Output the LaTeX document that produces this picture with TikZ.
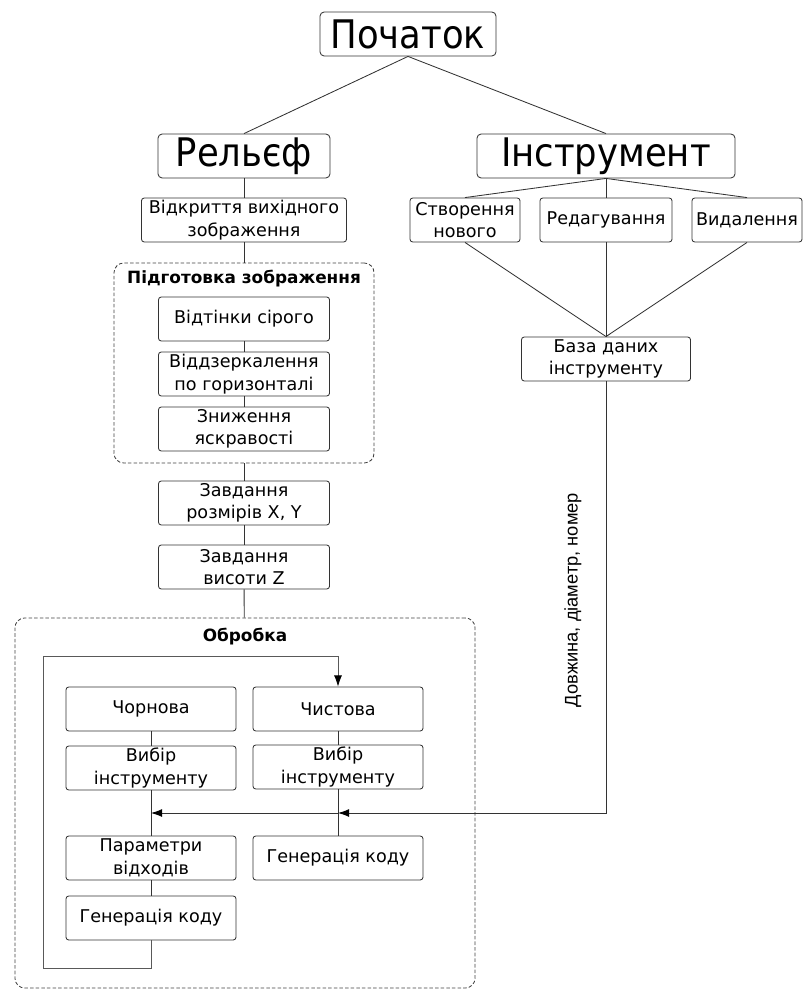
\documentclass[tikz,border=0pt]{standalone}
\usepackage{fontspec}
\setmainfont{DejaVu Sans}
\newfontfamily\condfont{DejaVu Sans Condensed}
\newfontfamily\arialfont{Liberation Sans}
\usetikzlibrary{arrows.meta, positioning}

\begin{document}
\begin{tikzpicture}[
  x=0.025cm, y=-0.025cm,
  line width=0.6pt,
  box/.style={draw=black!80, rounded corners=2pt, align=center, inner sep=0pt,
              minimum height=1.1cm, font=\fontsize{12.5}{16}\selectfont},
  bigbox/.style={draw=black!80, rounded corners=3pt, inner sep=0pt,
                 minimum height=1.1cm, font=\condfont\fontsize{28}{30}\selectfont},
  group/.style={draw=black!75, dash pattern=on 2.5pt off 1.5pt, rounded corners=7pt},
  grouptitle/.style={font=\bfseries\fontsize{12}{14}\selectfont},
  datalabel/.style={font=\arialfont\fontsize{13}{15}\selectfont},
  link/.style={draw=black!80},
  arr/.style={-{Latex[length=2.8mm, width=2mm, color=black]}, draw=black!80}
]
\useasboundingbox (0,0) rectangle (810,990);

% top level
\node[bigbox, minimum width=4.4cm] (start) at (408,34) {Початок};
\node[bigbox, minimum width=4.3cm] (relief) at (244,156) {Рельєф};
\node[bigbox, minimum width=6.45cm] (tool) at (606,156) {Інструмент};

% relief branch
\node[box, minimum width=5.125cm] (open) at (244,220) {Відкриття вихідного\\зображення};
\node[group, minimum width=6.5cm, minimum height=5cm] (prep) at (244,363) {};
\node[grouptitle] (preptitle) at (244,279) {Підготовка зображення};
\node[box, minimum width=4.275cm] (gray) at (244,319) {Відтінки сірого};
\node[box, minimum width=4.275cm] (mirror) at (244,374) {Віддзеркалення\\по горизонталі};
\node[box, minimum width=4.275cm] (bright) at (244,429) {Зниження\\яскравості};
\node[box, minimum width=4.275cm] (sizexy) at (244,503) {Завдання\\розмірів X, Y};
\node[box, minimum width=4.275cm] (heightz) at (244,567) {Завдання\\висоти Z};

% processing
\node[group, minimum width=11.5cm, minimum height=9.25cm] (proc) at (245,803) {};
\node[grouptitle] (proctitle) at (245,637) {Обробка};
\node[box, minimum width=4.25cm] (rough) at (151,709) {Чорнова};
\node[box, minimum width=4.25cm] (roughtool) at (151,768) {Вибір\\інструменту};
\node[box, minimum width=4.25cm] (waste) at (151,858) {Параметри\\відходів};
\node[box, minimum width=4.25cm] (roughgen) at (151,918) {Генерація коду};
\node[box, minimum width=4.25cm] (finish) at (338,709) {Чистова};
\node[box, minimum width=4.25cm] (finishtool) at (338,767) {Вибір\\інструменту};
\node[box, minimum width=4.25cm] (finishgen) at (338,858) {Генерація коду};

% tool branch
\node[box, minimum width=2.75cm] (new) at (465,220) {Створення\\нового};
\node[box, minimum width=3.3cm] (edit) at (606,220) {Редагування};
\node[box, minimum width=2.75cm] (del) at (747,220) {Видалення};
\node[box, minimum width=4.225cm] (db) at (606,359) {База даних\\інструменту};
\node[datalabel, rotate=90] (datatext) at (573,600) {Довжина, діаметр, номер};

\coordinate (loopbl) at (43,968);
\coordinate (looptr) at (338,656);
\coordinate (pinf) at (338,813);
\coordinate (pinr) at (151,813);

\draw[link] (start.south) -- (relief.north);
\draw[link] (start.south) -- (tool.north);
\draw[link] (relief) -- (open);
\draw[link] (open) -- (prep);
\draw[link] (gray) -- (mirror);
\draw[link] (mirror) -- (bright);
\draw[link] (prep) -- (sizexy);
\draw[link] (sizexy) -- (heightz);
\draw[link] (heightz) -- (proc);

\draw[link] (tool.south) -- (new.north);
\draw[link] (tool.south) -- (edit.north);
\draw[link] (tool.south) -- (del.north);
\draw[link] (new.south) -- (db.north);
\draw[link] (edit.south) -- (db.north);
\draw[link] (del.south) -- (db.north);

\draw[link] (rough) -- (roughtool);
\draw[link] (roughtool) -- (waste);
\draw[link] (waste) -- (roughgen);
\draw[link] (finish) -- (finishtool);
\draw[link] (finishtool) -- (finishgen);

\draw[arr, draw=black!65] (roughgen.south) |- (loopbl) |- (looptr) -- (finish.north);
\draw[arr] (db.south) |- (pinf);
\draw[arr] (pinf) -- (pinr);
\end{tikzpicture}
\end{document}
